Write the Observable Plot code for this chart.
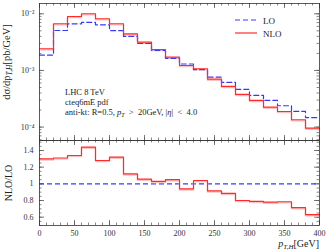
<!DOCTYPE html>
<html>
<head>
<meta charset="utf-8">
<script src="https://cdn.jsdelivr.net/npm/d3@7"></script>
<script src="https://cdn.jsdelivr.net/npm/@observablehq/plot@0.6"></script>
<style>
  body { margin: 0; background: #fff; }
  #wrap { position: relative; width: 327px; height: 251px; overflow: hidden; }
  #wrap svg { position: absolute; left: 0; font-family: "Liberation Serif", serif; }
</style>
</head>
<body>
<div id="wrap"></div>
<script>
// ---- data ----
const binStart = [0,20,40,60,80,100,120,140,160,180,200,220,240,260,280,300,320,340,360,380];
const binEnd = 400;
const LO  = [1.86e-3,5.07e-3,6.66e-3,7.03e-3,6.40e-3,5.05e-3,3.98e-3,2.99e-3,2.27e-3,1.64e-3,1.30e-3,1.03e-3,7.62e-4,6.14e-4,4.62e-4,3.62e-4,2.96e-4,2.38e-4,1.89e-4,1.47e-4];
const NLO = [2.42e-3,6.66e-3,8.96e-3,1.00e-2,8.16e-3,6.66e-3,4.43e-3,3.16e-3,2.34e-3,1.72e-3,1.225e-3,1.07e-3,7.03e-4,5.23e-4,3.78e-4,2.96e-4,2.25e-4,1.89e-4,1.35e-4,9.6e-5];
const RATIO = [1.30,1.31,1.34,1.44,1.28,1.32,1.12,1.056,1.03,1.05,0.94,1.04,0.915,0.885,0.80,0.79,0.78,0.785,0.715,0.63];
const xMajor = [0,50,100,150,200,250,300,350,400];
const xMinor = d3.range(0, 401, 10);
const yMajorTop = [1e-4,1e-3,1e-2];
const yMajorTopLabels = ["10⁻⁴","10⁻³","10⁻²"];
const yMajorRatio = [0.6,0.8,1.0,1.2,1.4];
const yMajorRatioLabels = ["0.6","0.8","1","1.2","1.4"];
const yMinorRatio = d3.range(0.5, 1.521, 0.05);
const seriesNames = ["LO","NLO"];
const annotation = ["LHC 8 TeV","cteq6mE pdf"];

// ---- helpers ----
const stepPts = (vals) => binStart.map((x,i)=>({x, y: vals[i]})).concat([{x: binEnd, y: vals[vals.length-1]}]);
const W = 327, mL = 39, mR = 8;
const fw = W - mL - mR;
const red = "#ff2a2a", blue = "#3a3af5", tickC = "#555", pink = "#f8c2c2";
const topDomain = [5.8e-5, 0.0152];
const yMinorTop = [];
for (let e = -5; e <= -2; e++) for (let m = 1; m <= 9; m++) { const v = m*Math.pow(10,e); if (v >= topDomain[0] && v <= topDomain[1]) yMinorTop.push(v); }

function tickMarks(fh, xMaj, xMin, yMaj, yMin) {
  const L = 5, S = 2.5;
  return [
    Plot.ruleX(xMaj, {x: d=>d, insetTop: fh-L, stroke: tickC, strokeWidth: 0.8}),
    Plot.ruleX(xMaj, {x: d=>d, insetBottom: fh-L, stroke: tickC, strokeWidth: 0.8}),
    Plot.ruleX(xMin, {x: d=>d, insetTop: fh-S, stroke: tickC, strokeWidth: 0.7}),
    Plot.ruleX(xMin, {x: d=>d, insetBottom: fh-S, stroke: tickC, strokeWidth: 0.7}),
    Plot.ruleY(yMaj, {y: d=>d, insetRight: fw-L, stroke: tickC, strokeWidth: 0.8}),
    Plot.ruleY(yMaj, {y: d=>d, insetLeft: fw-L, stroke: tickC, strokeWidth: 0.8}),
    Plot.ruleY(yMin, {y: d=>d, insetRight: fw-S, stroke: tickC, strokeWidth: 0.7}),
    Plot.ruleY(yMin, {y: d=>d, insetLeft: fw-S, stroke: tickC, strokeWidth: 0.7})
  ];
}

// ---- top panel ----
const topH = 141, topMT = 3, topMB = 1;
const topPlot = Plot.plot({
  width: W, height: topH, marginLeft: mL, marginRight: mR, marginTop: topMT, marginBottom: topMB,
  style: {fontFamily: "Liberation Serif, serif", fontSize: "8px", background: "transparent"},
  x: {domain: [0, 400], axis: null},
  y: {type: "log", domain: topDomain, axis: null},
  marks: [
    ...tickMarks(topH - topMT - topMB, xMajor, xMinor, yMajorTop, yMinorTop),
    Plot.text(yMajorTop, {y: d=>d, text: (d,i)=>yMajorTopLabels[i], frameAnchor: "left", textAnchor: "end", dx: -5, fontSize: 8, fill: "#333"}),
    Plot.line(stepPts(NLO), {x: "x", y: "y", curve: "step-after", stroke: pink, strokeWidth: 1.6, dy: 1}),
    Plot.line(stepPts(LO), {x: "x", y: "y", curve: "step-after", stroke: blue, strokeWidth: 1.2, strokeDasharray: "5,3"}),
    Plot.line(stepPts(NLO), {x: "x", y: "y", curve: "step-after", stroke: red, strokeWidth: 1.1}),
    Plot.frame({stroke: "#333", strokeWidth: 0.8})
  ]
});
topPlot.style.top = "0px";
document.getElementById("wrap").appendChild(topPlot);

// ---- ratio panel ----
const botTop = 139, botH = 112, botMT = 1, botMB = 26;
const botPlot = Plot.plot({
  width: W, height: botH, marginLeft: mL, marginRight: mR, marginTop: botMT, marginBottom: botMB,
  style: {fontFamily: "Liberation Serif, serif", fontSize: "8px", background: "transparent"},
  x: {domain: [0, 400], axis: null},
  y: {domain: [0.5, 1.52], axis: null},
  marks: [
    ...tickMarks(botH - botMT - botMB, xMajor, xMinor, yMajorRatio, yMinorRatio),
    Plot.text(yMajorRatio, {y: d=>d, text: (d,i)=>yMajorRatioLabels[i], frameAnchor: "left", textAnchor: "end", dx: -6, fontSize: 8, fill: "#333"}),
    Plot.text(xMajor, {x: d=>d, text: d=>String(d), frameAnchor: "bottom", lineAnchor: "top", dy: 5, fontSize: 8, fill: "#333"}),
    Plot.ruleY([1], {stroke: blue, strokeWidth: 1.2, strokeDasharray: "5,3"}),
    Plot.line(stepPts(RATIO), {x: "x", y: "y", curve: "step-after", stroke: pink, strokeWidth: 1.6, dy: 1}),
    Plot.line(stepPts(RATIO), {x: "x", y: "y", curve: "step-after", stroke: red, strokeWidth: 1.1}),
    Plot.frame({stroke: "#333", strokeWidth: 0.8})
  ]
});
botPlot.style.top = botTop + "px";
document.getElementById("wrap").appendChild(botPlot);

// ---- text: labels, legend, annotation ----
const ts = d3.select(topPlot);
// y label top
const yl = ts.append("text").attr("transform", "translate(10,62) rotate(-90)")
  .attr("text-anchor", "middle").attr("font-size", 10.5).attr("fill", "#222");
yl.append("tspan").text("dσ/dp");
yl.append("tspan").attr("font-size", 7.5).attr("font-style", "italic").attr("dy", 2).text("T,H");
yl.append("tspan").attr("dy", -2).text("[pb/GeV]");

// legend
const lg = ts.append("g");
seriesNames.forEach((name, i) => {
  const y = 20 + i*13;
  lg.append("line").attr("x1", 235).attr("x2", 257).attr("y1", y).attr("y2", y)
    .attr("stroke", i === 0 ? blue : red).attr("stroke-width", 1.2)
    .attr("stroke-dasharray", i === 0 ? "5,3" : null);
  lg.append("text").attr("x", 263).attr("y", y + 3.5).attr("text-anchor", "start")
    .attr("font-size", 9).attr("fill", "#222").text(name);
});

// annotation
annotation.forEach((t, i) => {
  ts.append("text").attr("x", 65).attr("y", 95 + i*10).attr("text-anchor", "start")
    .attr("font-size", 8.5).attr("fill", "#222").text(t);
});
const a3 = ts.append("text").attr("x", 65).attr("y", 115).attr("text-anchor", "start")
  .attr("font-size", 8.5).attr("fill", "#222");
a3.append("tspan").text("anti-kt: R=0.5, ");
a3.append("tspan").attr("font-style", "italic").text("p");
a3.append("tspan").attr("font-size", 6).attr("font-style", "italic").attr("dy", 1.5).text("T");
a3.append("tspan").attr("dy", -1.5).text("\u2002>\u200220GeV, |");
a3.append("tspan").attr("font-style", "italic").text("η");
a3.append("tspan").text("|\u2002<\u20024.0");

// ratio panel labels
const bs = d3.select(botPlot);
bs.append("text").attr("transform", "translate(12,44) rotate(-90)")
  .attr("text-anchor", "middle").attr("font-size", 10).attr("fill", "#222").text("NLO/LO");
const xl = bs.append("text").attr("x", 319).attr("y", 108).attr("text-anchor", "end")
  .attr("font-size", 10).attr("fill", "#222");
xl.append("tspan").attr("font-style", "italic").text("p");
xl.append("tspan").attr("font-size", 7).attr("font-style", "italic").attr("dy", 2).text("T,H");
xl.append("tspan").attr("dy", -2).text("[GeV]");
</script>
</body>
</html>
